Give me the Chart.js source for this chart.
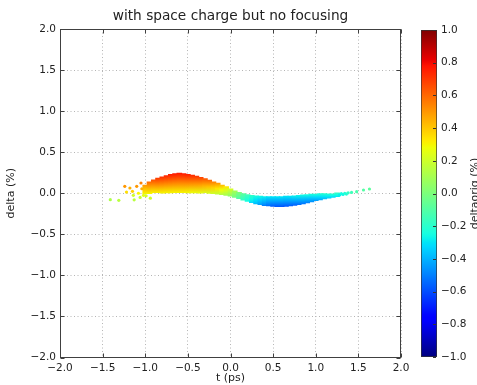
<!DOCTYPE html>
<html><head><meta charset="utf-8">
<script src="https://cdn.jsdelivr.net/npm/chart.js@4.4.0/dist/chart.umd.min.js"></script>
<style>
html,body{margin:0;padding:0;background:#fff;}
#wrap{position:relative;width:477px;height:385px;overflow:hidden;background:#fff;}
canvas{position:absolute;left:0;top:0;}
</style></head><body>
<div id="wrap"><canvas id="main" width="477" height="385"></canvas><canvas id="cbar" width="477" height="385"></canvas></div>
<script>
// ---- data ----
const xTicks = [-2.0,-1.5,-1.0,-0.5,0.0,0.5,1.0,1.5,2.0];
const yTicks = [-2.0,-1.5,-1.0,-0.5,0.0,0.5,1.0,1.5,2.0];
const cbTicks = [-1.0,-0.8,-0.6,-0.4,-0.2,0.0,0.2,0.4,0.6,0.8,1.0];

// dense band: per t column, lower/upper delta (%) and deltaorig (%) at those edges
const tCols = [-1.00,-0.95,-0.90,-0.85,-0.80,-0.75,-0.70,-0.65,-0.60,-0.55,
  -0.50,-0.45,-0.40,-0.35,-0.30,-0.25,-0.20,-0.15,-0.10,-0.05,
  0.00,0.05,0.10,0.15,0.20,0.25,0.30,0.35,0.40,0.45,
  0.50,0.55,0.60,0.65,0.70,0.75,0.80,0.85,0.90,0.95,
  1.00,1.05,1.10,1.15,1.20,1.25];
const deltaHi = [0.10,0.14,0.165,0.185,0.20,0.215,0.23,0.24,0.245,0.24,
  0.23,0.22,0.21,0.195,0.18,0.16,0.14,0.125,0.10,0.08,
  0.055,0.03,0.01,-0.005,-0.015,-0.025,-0.03,-0.035,-0.04,-0.04,
  -0.04,-0.04,-0.04,-0.035,-0.035,-0.03,-0.025,-0.02,-0.015,-0.01,
  -0.01,-0.005,-0.005,0.0,0.0,0.005];
const deltaLo = [-0.005,-0.005,0.0,0.0,0.002,0.004,0.005,0.006,0.006,0.006,
  0.005,0.004,0.003,0.002,0.0,-0.003,-0.006,-0.01,-0.017,-0.025,
  -0.035,-0.05,-0.065,-0.085,-0.10,-0.115,-0.13,-0.14,-0.15,-0.155,
  -0.16,-0.162,-0.162,-0.16,-0.155,-0.148,-0.14,-0.13,-0.118,-0.105,
  -0.09,-0.08,-0.07,-0.06,-0.05,-0.04];
const origHi = [0.5,0.6,0.65,0.7,0.72,0.74,0.76,0.77,0.77,0.76,
  0.75,0.73,0.71,0.68,0.64,0.6,0.55,0.5,0.42,0.33,
  0.22,0.1,0.0,-0.08,-0.14,-0.19,-0.23,-0.26,-0.28,-0.3,
  -0.3,-0.3,-0.3,-0.3,-0.3,-0.28,-0.27,-0.26,-0.25,-0.24,
  -0.23,-0.22,-0.21,-0.2,-0.19,-0.18];
const origLo = [0.3,0.3,0.3,0.3,0.3,0.3,0.3,0.3,0.3,0.3,
  0.29,0.28,0.27,0.26,0.24,0.22,0.2,0.17,0.14,0.1,
  0.05,-0.02,-0.1,-0.18,-0.25,-0.32,-0.38,-0.44,-0.5,-0.54,
  -0.57,-0.58,-0.58,-0.58,-0.57,-0.56,-0.54,-0.52,-0.5,-0.47,
  -0.44,-0.41,-0.38,-0.35,-0.32,-0.29];

// sparse particles at the head and tail
const sparseT     = [-1.41,-1.31,-1.24,-1.22,-1.18,-1.15,-1.14,-1.13,-1.10,-1.08,-1.06,-1.05,-1.04,-1.02,-0.99,-0.94,
                     1.28,1.30,1.32,1.34,1.36,1.38,1.42,1.48,1.56,1.63];
const sparseDelta = [-0.078,-0.086,0.085,0.015,0.064,0.024,-0.025,-0.08,0.085,0.0,-0.05,0.125,0.055,-0.025,-0.03,-0.06,
                     -0.02,-0.005,-0.015,0.0,-0.01,0.005,0.01,0.02,0.04,0.052];
const sparseOrig  = [0.12,0.15,0.5,0.35,0.45,0.38,0.2,0.15,0.5,0.3,0.18,0.55,0.45,0.25,0.22,0.2,
                     -0.28,-0.25,-0.26,-0.22,-0.22,-0.18,-0.15,-0.12,-0.1,-0.08];

// ---- styling helpers ----
const FONT = 'DejaVu Sans';
Chart.defaults.font.family = FONT;
Chart.defaults.color = '#222';
const JET = {
  r: [[0,0],[0.35,0],[0.66,1],[0.89,1],[1,0.5]],
  g: [[0,0],[0.125,0],[0.375,1],[0.64,1],[0.91,0],[1,0]],
  b: [[0,0.5],[0.11,1],[0.34,1],[0.65,0],[1,0]]
};
function seg(p, x){ for(let k=1;k<p.length;k++){ if(x<=p[k][0]){ const x0=p[k-1][0],y0=p[k-1][1],x1=p[k][0],y1=p[k][1]; return y0+(y1-y0)*(x-x0)/(x1-x0);} } return p[p.length-1][1]; }
function jetCss(v){ const x=Math.min(1,Math.max(0,(v+1)/2));
  return 'rgb('+Math.round(255*seg(JET.r,x))+','+Math.round(255*seg(JET.g,x))+','+Math.round(255*seg(JET.b,x))+')'; }
const fmt = v => { const s = Math.abs(v).toFixed(1); return v < -1e-9 ? '\u2212' + s : s; };

function bandColor(c){
  const chart=c.chart; const a=chart.chartArea;
  if(!a || c.type!=='data') return 'rgba(0,0,0,0)';
  const i=c.dataIndex, ys=chart.scales.y;
  const y0=ys.getPixelForValue(deltaLo[i]), y1=ys.getPixelForValue(deltaHi[i]);
  if(!isFinite(y0)||!isFinite(y1)||Math.abs(y0-y1)<0.01) return jetCss(origLo[i]);
  const g=chart.ctx.createLinearGradient(0,y0,0,y1);
  g.addColorStop(0,jetCss(origLo[i]));
  g.addColorStop(0.5,jetCss((origLo[i]+origHi[i])/2));
  g.addColorStop(1,jetCss(origHi[i]));
  return g;
}

const framePlugin = {
  id:'frame',
  afterDraw(chart){
    const {ctx, chartArea:a, scales} = chart;
    const L=Math.round(a.left)+0.5, R=Math.round(a.right)-0.5, T=Math.round(a.top)+0.5, B=Math.round(a.bottom)-0.5;
    ctx.save();
    ctx.strokeStyle='#404040'; ctx.lineWidth=1;
    ctx.beginPath();
    xTicks.forEach(v=>{ const p=Math.round(scales.x.getPixelForValue(v))+0.5; ctx.moveTo(p,B); ctx.lineTo(p,B-4); ctx.moveTo(p,T); ctx.lineTo(p,T+4); });
    yTicks.forEach(v=>{ const p=Math.round(scales.y.getPixelForValue(v))+0.5; ctx.moveTo(L,p); ctx.lineTo(L+4,p); ctx.moveTo(R,p); ctx.lineTo(R-4,p); });
    ctx.stroke();
    ctx.strokeRect(L,T,R-L,B-T);
    ctx.restore();
  }
};

new Chart(document.getElementById('main'), {
  type:'bar',
  data:{ datasets:[
    { type:'scatter', data: sparseT.map((t,i)=>({x:t,y:sparseDelta[i]})),
      pointBackgroundColor: sparseOrig.map(jetCss), pointBorderWidth:0, pointRadius:1.6, order:0 },
    { type:'bar', data: tCols.map((t,i)=>({x:t,y:[deltaLo[i],deltaHi[i]]})),
      backgroundColor: bandColor, borderWidth:0, borderSkipped:false, barThickness:5, order:1 }
  ]},
  options:{
    responsive:false, animation:false, events:[],
    layout:{padding:{left:0,right:76,top:0,bottom:0}},
    plugins:{
      legend:{display:false}, tooltip:{enabled:false},
      title:{display:true, fullSize:false, text:'with space charge but no focusing', color:'#222',
        font:{size:13.7, weight:'normal', family:FONT}, padding:{top:8.3,bottom:4.3}}
    },
    scales:{
      x:{ type:'linear', min:-2, max:2, offset:false,
        afterBuildTicks: s => { s.ticks = xTicks.map(v=>({value:v})); },
        ticks:{ callback: v=>fmt(v), font:{size:10.5}, padding:4, maxRotation:0, autoSkip:false },
        grid:{ offset:false, color:'#b5b5b5', lineWidth:1, drawTicks:false },
        border:{ display:false, dash:[1,2.5] },
        title:{ display:true, text:'t (ps)', font:{size:11}, padding:{top:0,bottom:0.5} },
        afterFit: s => { s.height = 27.5; }
      },
      y:{ type:'linear', min:-2, max:2,
        afterBuildTicks: s => { s.ticks = yTicks.map(v=>({value:v})); },
        ticks:{ callback: v=>fmt(v), font:{size:10.5}, padding:4, autoSkip:false },
        grid:{ color:'#b5b5b5', lineWidth:1, drawTicks:false },
        border:{ display:false, dash:[1,2.5] },
        title:{ display:true, text:'delta (%)', font:{size:11}, padding:{top:5,bottom:0} },
        afterFit: s => { s.width = 60; }
      }
    }
  },
  plugins:[framePlugin]
});

// ---- colorbar ----
function cbGrad(c){
  const chart=c.chart; const a=chart.chartArea;
  if(!a) return 'rgba(0,0,0,0)';
  const ys=chart.scales.y;
  const y0=ys.getPixelForValue(-1), y1=ys.getPixelForValue(1);
  const g=chart.ctx.createLinearGradient(0,y0,0,y1);
  for(let k=0;k<=100;k++){ const p=k/100; g.addColorStop(p, jetCss(2*p-1)); }
  return g;
}
const cbLabelPlugin = {
  id:'cblabel',
  afterDraw(chart){
    const {ctx, chartArea:a, scales} = chart;
    ctx.save();
    ctx.strokeStyle='#333'; ctx.lineWidth=1; ctx.beginPath();
    cbTicks.forEach(v=>{ const p=Math.round(scales.y.getPixelForValue(v))+0.5; ctx.moveTo(a.right-1,p); ctx.lineTo(a.right-4,p); });
    ctx.stroke();
    ctx.translate(470, 193.5); ctx.rotate(-Math.PI/2);
    ctx.font = '11px "DejaVu Sans"'; ctx.fillStyle='#222'; ctx.textAlign='center'; ctx.textBaseline='top';
    ctx.fillText('deltaorig (%)', 0, 0);
    ctx.restore();
  }
};
new Chart(document.getElementById('cbar'), {
  type:'bar',
  data:{ labels:['c'], datasets:[{ data:[[-1,1]], backgroundColor: cbGrad, borderColor:'#333', borderWidth:1,
    borderSkipped:false, barPercentage:1, categoryPercentage:1 }]},
  options:{
    responsive:false, animation:false, events:[],
    layout:{padding:{left:421,right:0,top:30,bottom:28}},
    plugins:{legend:{display:false}, tooltip:{enabled:false}},
    scales:{
      x:{display:false},
      y:{ position:'right', min:-1, max:1,
        afterBuildTicks: s => { s.ticks = cbTicks.map(v=>({value:v})); },
        ticks:{ callback: v=>fmt(v), font:{size:10.5}, padding:4, autoSkip:false },
        grid:{display:false, drawTicks:false}, border:{display:false},
        afterFit: s => { s.width = 40; }
      }
    }
  },
  plugins:[cbLabelPlugin]
});
</script>
</body></html>
